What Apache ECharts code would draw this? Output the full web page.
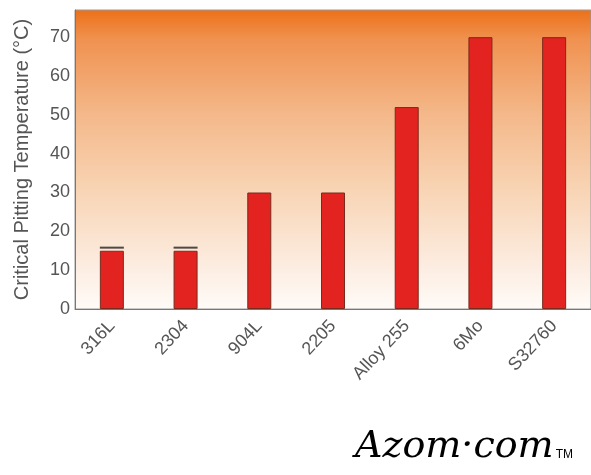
<!DOCTYPE html>
<html>
<head>
<meta charset="utf-8">
<script src="https://cdn.jsdelivr.net/npm/echarts@6/dist/echarts.min.js"></script>
<style>
  html, body { margin: 0; padding: 0; background: #fff; }
  #container { width: 591px; height: 475px; }
</style>
</head>
<body>
<div id="container"></div>
<script>
var grades = ['316L', '2304', '904L', '2205', 'Alloy 255', '6Mo', 'S32760'];
var cptValues = [15, 15, 30, 30, 52, 70, 70];
var capValues = [15.8, 15.8, null, null, null, null, null];
var yTicks = [0, 10, 20, 30, 40, 50, 60, 70];

var dom = document.getElementById('container');
var myChart = echarts.init(dom);

var option = {
    animation: false,
    grid: {
        left: 75,
        top: 10,
        width: 524,
        height: 299,
        show: true,
        borderColor: '#999',
        borderWidth: 1,
        backgroundColor: new echarts.graphic.LinearGradient(0, 0, 0, 1, [
            { offset: 0, color: '#ec7018' },
            { offset: 0.1, color: '#f09250' },
            { offset: 0.35, color: '#f4b88a' },
            { offset: 0.6, color: '#f8d4b4' },
            { offset: 0.85, color: '#fcece0' },
            { offset: 1, color: '#fffbf8' }
        ])
    },
    xAxis: {
        type: 'category',
        data: grades,
        axisTick: { show: false },
        axisLine: { lineStyle: { color: '#777', width: 1 } },
        axisLabel: {
            rotate: 47,
            interval: 0,
            margin: 14,
            color: '#555',
            fontSize: 18,
            fontFamily: 'Liberation Sans, Arial'
        }
    },
    yAxis: {
        type: 'value',
        min: 0,
        max: 77,
        interval: 10,
        name: 'Critical Pitting Temperature (°C)',
        nameLocation: 'middle',
        nameGap: 43,
        nameTextStyle: {
            color: '#555',
            fontSize: 20,
            fontFamily: 'Liberation Sans, Arial'
        },
        splitLine: { show: false },
        axisTick: { show: false },
        axisLine: { show: true, lineStyle: { color: '#777' } },
        axisLabel: {
            showMaxLabel: false,
            margin: 5,
            color: '#555',
            fontSize: 18,
            fontFamily: 'Liberation Sans, Arial',
            formatter: function (v) {
                return yTicks.indexOf(v) >= 0 ? String(v) : '';
            }
        }
    },
    series: [
        {
            type: 'bar',
            data: cptValues,
            barWidth: 24,
            itemStyle: {
                color: '#e2231f',
                borderColor: '#7a2a1c',
                borderWidth: 1
            }
        },
        {
            type: 'scatter',
            data: capValues,
            symbol: 'rect',
            symbolSize: [24, 2],
            itemStyle: { color: '#222' },
            z: 3
        }
    ],
    graphic: [
        {
            type: 'text',
            left: 355,
            top: 428,
            style: {
                text: '{a|Azom·com}{b|TM}',
                rich: {
                    a: {
                        fontFamily: 'DejaVu Serif',
                        fontStyle: 'italic',
                        fontSize: 38,
                        color: '#d8262a'
                    },
                    b: {
                        fontFamily: 'Liberation Sans',
                        fontSize: 12,
                        color: '#d8262a',
                        padding: [16, 0, 0, 2]
                    }
                }
            }
        }
    ]
};

myChart.setOption(option, true);
</script>
</body>
</html>
